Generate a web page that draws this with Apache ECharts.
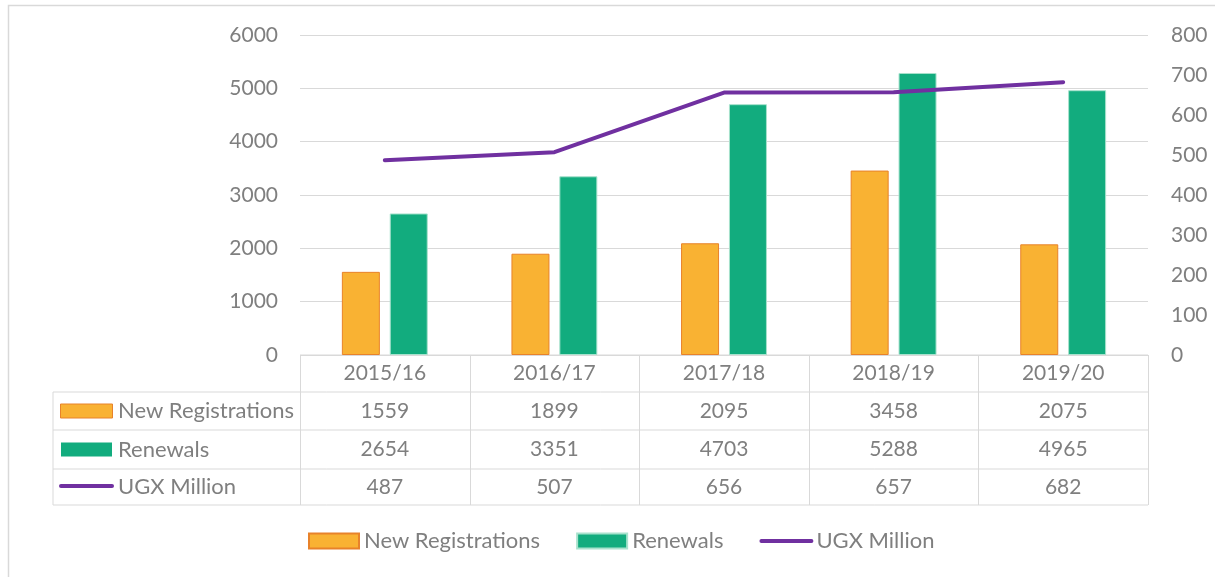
<!DOCTYPE html>
<html>
<head>
<meta charset="utf-8">
<script src="https://cdn.jsdelivr.net/npm/echarts@6/dist/echarts.min.js"></script>
<style>
  html, body { margin: 0; padding: 0; background: #fff; }
  #chart { width: 1215px; height: 577px; }
</style>
</head>
<body>
<div id="chart"></div>
<script>
// data
const years = ['2015/16', '2016/17', '2017/18', '2018/19', '2019/20']
const newRegistrations = [1559, 1899, 2095, 3458, 2075]
const renewals = [2654, 3351, 4703, 5288, 4965]
const ugxMillion = [487, 507, 656, 657, 682]

const FONT = 'Lato'
const TXT = '#7f7f7f'
const GRID_LINE = '#d9d9d9'
const ORANGE = '#f9b233'
const ORANGE_EDGE = '#e8822a'
const GREEN = '#12ac7e'
const PURPLE = '#7030a0'
const NUM_SIZE = 21
const WORD_SIZE = 22

// plot box
const plotLeft = 300
const plotRight = 1148
const plotTop = 35
const plotBottom = 355
const colW = (plotRight - plotLeft) / years.length
const tableLeft = 53
const rowY = [355, 392, 430, 469, 505]

function buildTable () {
  const els = []
  const line = (x1, y1, x2, y2) => els.push({
    type: 'line',
    shape: { x1, y1, x2, y2 },
    style: { stroke: GRID_LINE, lineWidth: 1 }
  })
  const text = (x, y, str, align, size) => els.push({
    type: 'text',
    x, y,
    style: { text: str, fill: TXT, font: (size || NUM_SIZE) + 'px ' + FONT, align: align || 'center', verticalAlign: 'middle' }
  })

  // horizontal rules
  line(plotLeft, rowY[0], plotRight, rowY[0])
  for (let i = 1; i < rowY.length; i++) line(tableLeft, rowY[i], plotRight, rowY[i])
  // vertical rules
  line(tableLeft, rowY[1], tableLeft, rowY[4])
  for (let c = 0; c <= years.length; c++) {
    const x = Math.round(plotLeft + c * colW) + 0.5
    line(x, rowY[0], x, rowY[4])
  }

  // header + values
  const rows = [years, newRegistrations, renewals, ugxMillion]
  rows.forEach((vals, r) => {
    const cy = (rowY[r] + rowY[r + 1]) / 2
    vals.forEach((v, c) => text(plotLeft + (c + 0.5) * colW, cy, String(v)))
  })

  // row keys
  const names = ['New Registrations', 'Renewals', 'UGX Million']
  names.forEach((n, i) => {
    const cy = (rowY[i + 1] + rowY[i + 2]) / 2
    if (i === 0) {
      els.push({ type: 'rect', shape: { x: 60.5, y: cy - 7, width: 52, height: 14 }, style: { fill: ORANGE, stroke: ORANGE_EDGE, lineWidth: 1 } })
    } else if (i === 1) {
      els.push({ type: 'rect', shape: { x: 61, y: cy - 7, width: 51, height: 14 }, style: { fill: GREEN } })
    } else {
      els.push({ type: 'line', shape: { x1: 61, y1: cy - 1, x2: 112, y2: cy - 1 }, style: { stroke: PURPLE, lineWidth: 4, lineCap: 'round' } })
    }
    text(118, cy, n, 'left', WORD_SIZE)
  })

  // outer border
  els.push({ type: 'rect', shape: { x: 8.5, y: 5.5, width: 1220, height: 600 }, style: { fill: null, stroke: '#d9d9d9', lineWidth: 1.5 } })
  return els
}

const dom = document.getElementById('chart')
const chart = echarts.init(dom)
const option = {
  animation: false,
  textStyle: { fontFamily: FONT },
  grid: {
    left: plotLeft,
    right: 1215 - plotRight,
    top: plotTop,
    bottom: 577 - plotBottom
  },
  legend: {
    bottom: 20,
    left: 303,
    itemWidth: 50,
    itemHeight: 15,
    itemGap: 36,
    textStyle: { color: TXT, fontSize: WORD_SIZE, fontFamily: FONT },
    data: [
      { name: 'New Registrations', icon: 'rect' },
      { name: 'Renewals', icon: 'rect' },
      { name: 'UGX Million', itemStyle: { opacity: 0 }, lineStyle: { width: 4, cap: 'round' } }
    ]
  },
  xAxis: {
    type: 'category',
    data: years,
    axisLine: { show: false },
    axisTick: { show: false },
    axisLabel: { show: false }
  },
  yAxis: [
    {
      type: 'value',
      min: 0,
      max: 6000,
      interval: 1000,
      axisLine: { show: false },
      axisTick: { show: false },
      axisLabel: { color: TXT, fontSize: NUM_SIZE, fontFamily: FONT, margin: 22, formatter: v => String(v) },
      splitLine: { lineStyle: { color: GRID_LINE, width: 1 } }
    },
    {
      type: 'value',
      min: 0,
      max: 800,
      interval: 100,
      position: 'right',
      axisLine: { show: false },
      axisTick: { show: false },
      axisLabel: { color: TXT, fontSize: NUM_SIZE, fontFamily: FONT, margin: 23 },
      splitLine: { show: false }
    }
  ],
  series: [
    {
      name: 'New Registrations',
      type: 'bar',
      data: newRegistrations,
      barWidth: 38,
      barGap: '26%',
      itemStyle: { color: ORANGE, borderColor: ORANGE_EDGE, borderWidth: 1 }
    },
    {
      name: 'Renewals',
      type: 'bar',
      data: renewals,
      barWidth: 38,
      itemStyle: { color: GREEN, borderColor: '#a8e2cd', borderWidth: 1 }
    },
    {
      name: 'UGX Million',
      type: 'line',
      yAxisIndex: 1,
      data: ugxMillion,
      symbol: 'none',
      lineStyle: { color: PURPLE, width: 4, cap: 'round' },
      itemStyle: { color: PURPLE }
    }
  ],
  graphic: buildTable()
}
chart.setOption(option)
</script>
</body>
</html>
